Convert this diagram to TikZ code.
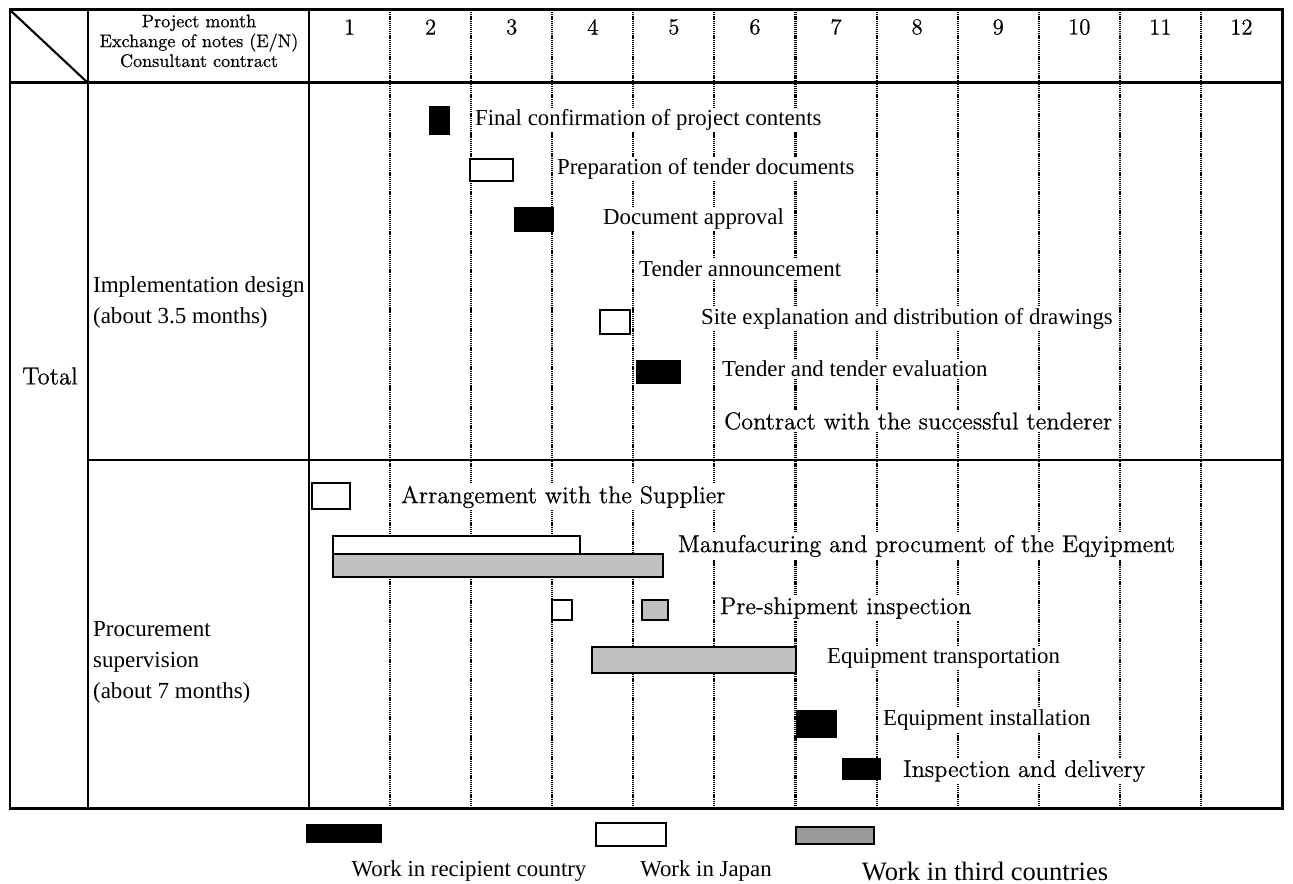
\documentclass[tikz,border=0pt]{standalone}
\usepackage{fontspec}
\newfontfamily\timesf{Liberation Serif}
\newfontfamily\centf{Latin Modern Roman}[FakeBold=0.6]
\usepackage{tikz}
\usetikzlibrary{positioning}
\definecolor{barGray}{HTML}{C0C0C0}
\definecolor{keyGray}{HTML}{999999}

\begin{document}
\begin{tikzpicture}[x=0.02cm, y=-0.02cm, every node/.style={inner sep=1pt},
  heavy/.style={line width=1.7pt},
  mline/.style={line width=1.2pt, dash pattern=on 0.7pt off 0.5pt},
  tlbl/.style={font=\timesf\fontsize{13}{15}\selectfont, fill=white, anchor=west},
  clbl/.style={font=\centf\fontsize{13.8}{16}\selectfont, fill=white, anchor=west},
  recip/.style={draw, line width=0.6pt, fill=black},
  japan/.style={draw, line width=0.6pt, fill=white},
  third/.style={draw, line width=0.6pt, fill=barGray}]
  \useasboundingbox (0,0) rectangle (1293,884);

  \foreach \m in {1,...,11}
    \draw[mline] ({309+81.08*\m},10) -- ({309+81.08*\m},808);
  \foreach \m in {1,...,12}
    \node[font=\centf\fontsize{13}{15}\selectfont] (mon\m) at ({309+81.08*(\m-0.5)},27) {\m};

  \node[align=center, font=\centf\fontsize{10.3}{11.3}\selectfont] (hdr) at (199,41)
    {Project month\\Exchange of notes (E/N)\\Consultant contract};
  \node[font=\centf\fontsize{14}{16}\selectfont] (total) at (50,376) {Total};
  \node[anchor=west, align=left, font=\timesf\fontsize{13.1}{17.6}\selectfont] (impl) at (91,302.5)
    {Implementation design\\(about 3.5 months)};
  \node[anchor=west, align=left, font=\timesf\fontsize{13.1}{17.6}\selectfont] (proc) at (91,662.5)
    {Procurement\\supervision\\(about 7 months)};

  \draw[recip] (430,107) rectangle (449,134);
  \node[tlbl] (fincon) at (473,120) {Final confirmation of project contents};
  \draw[japan] (470,159) rectangle (513,181);
  \node[tlbl] (prep) at (555,169) {Preparation of tender documents};
  \draw[recip] (515,208) rectangle (553,231);
  \node[tlbl] (docapp) at (601,219) {Document approval};
  \node[tlbl] (tenann) at (637,269) {Tender announcement};
  \draw[japan] (600,310) rectangle (630,334);
  \node[tlbl] (siteexp) at (699,319) {Site explanation and distribution of drawings};
  \draw[recip] (637,361) rectangle (680,383);
  \node[tlbl] (tendev) at (720,369) {Tender and tender evaluation};
  \node[clbl] (contr) at (722,421) {Contract with the successful tenderer};

  \draw[japan] (312,483) rectangle (350,509);
  \node[clbl] (arrange) at (399,497) {Arrangement with the Supplier};
  \draw[japan] (333,536) rectangle (580,554);
  \draw[third] (333,554) rectangle (663,577);
  \node[clbl] (manuf) at (676,546) {Manufacuring and procument of the Eqyipment};
  \draw[japan] (552,600) rectangle (572,620);
  \draw[third] (642,600) rectangle (668,620);
  \node[clbl] (preship) at (718,608) {Pre-shipment inspection};
  \draw[third] (592,647) rectangle (796,673);
  \node[tlbl] (eqtrans) at (825,658) {Equipment transportation};
  \draw[recip] (797,711) rectangle (836,737);
  \node[tlbl] (eqinst) at (881,720) {Equipment installation};
  \draw[recip] (843,759) rectangle (880,779);
  \node[clbl] (inspdel) at (901,771) {Inspection and delivery};

  \draw[heavy] (10,10) rectangle (1282,808);
  \draw[heavy] (10,83) -- (1282,83);
  \draw[heavy] (88,10) -- (88,808);
  \draw[heavy] (309,10) -- (309,808);
  \draw[heavy] (88,460) -- (1282,460);
  \draw[line width=1.2pt] (10,10) -- (88,83);

  \draw[recip] (307,825) rectangle (381,842);
  \draw[japan] (596,823) rectangle (666,846);
  \draw[draw, line width=0.6pt, fill=keyGray] (796,827) rectangle (874,844);
  \node[font=\timesf\fontsize{13}{15}\selectfont] (keyr) at (469,871) {Work in recipient country};
  \node[font=\timesf\fontsize{13}{15}\selectfont] (keyj) at (706,871) {Work in Japan};
  \node[font=\timesf\fontsize{15.1}{17}\selectfont] (keyt) at (985,871) {Work in third countries};
\end{tikzpicture}
\end{document}
